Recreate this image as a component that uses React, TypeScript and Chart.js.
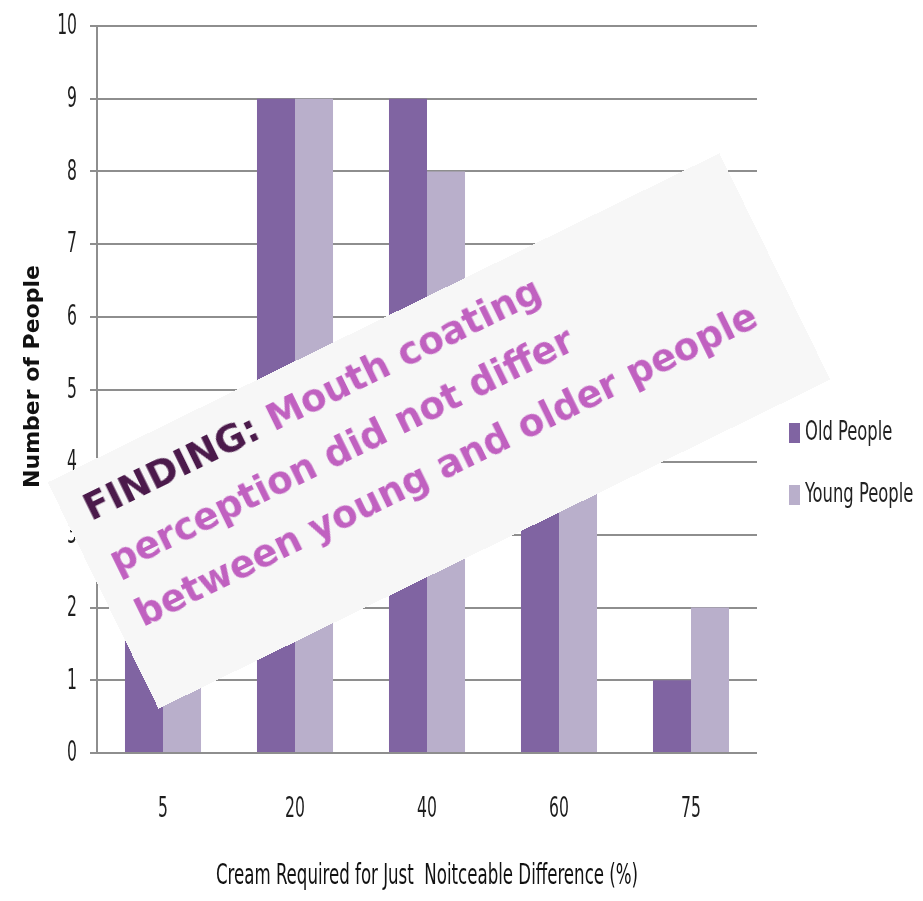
import { useEffect, useRef } from 'react';
import { Chart, registerables } from 'chart.js';

Chart.register(...registerables);

const categories = ['5', '20', '40', '60', '75'];
const oldPeople = [2, 9, 9, 4, 1];
const youngPeople = [2, 9, 8, 4, 2];
const seriesNames = ['Old People', 'Young People'];
const seriesColors = ['#8064A2', '#B9AFCB'];
const yTitle = 'Number of People';
const xTitle = 'Cream Required for Just  Noitceable Difference (%)';
const findingLead = 'FINDING:';
const findingLines = [' Mouth coating', 'perception did not differ', 'between young and older people'];

const NARROW = '"DejaVu Sans Condensed", "DejaVu Sans", sans-serif';
const W = 923;
const H = 901;

function drawSquashed(ctx: any, text: string, x: number, y: number, size: number, sx: number, align: string) {
  ctx.save();
  ctx.translate(x, y);
  ctx.scale(sx, 1);
  ctx.font = `${size}px ${NARROW}`;
  ctx.textAlign = align;
  ctx.textBaseline = 'middle';
  ctx.fillText(text, 0, 0);
  ctx.restore();
}

const textPlugin = {
  id: 'squashedText',
  afterDraw(chart: any) {
    const ctx = chart.ctx;
    const area = chart.chartArea;
    const xs = chart.scales.x;
    const ys = chart.scales.y;
    ctx.save();
    ctx.fillStyle = '#1e1e1e';
    ys.ticks.forEach((t: any, i: number) => {
      drawSquashed(ctx, String(t.label), area.left - 20, ys.getPixelForTick(i) + 1, 28, 0.62, 'right');
    });
    xs.ticks.forEach((t: any, i: number) => {
      drawSquashed(ctx, String(xs.getLabelForValue(t.value)), xs.getPixelForTick(i), area.bottom + 57, 28, 0.62, 'center');
    });
    ctx.fillStyle = '#111';
    drawSquashed(ctx, xTitle, (area.left + area.right) / 2, area.bottom + 124, 28, 0.66, 'center');
    // y title
    ctx.save();
    ctx.translate(33, (area.top + area.bottom) / 2 - 13);
    ctx.rotate(-Math.PI / 2);
    ctx.font = 'bold 22px "DejaVu Sans", sans-serif';
    ctx.textAlign = 'center';
    ctx.textBaseline = 'middle';
    ctx.fillStyle = '#111';
    ctx.fillText(yTitle, 0, 0);
    ctx.restore();
    // legend
    const lx = area.right + 32;
    const ly = area.top + 407;
    chart.data.datasets.forEach((ds: any, i: number) => {
      const cy = ly + i * 62;
      ctx.fillStyle = ds.backgroundColor;
      ctx.fillRect(lx, cy - 10, 11, 20);
      ctx.fillStyle = '#222';
      drawSquashed(ctx, ds.label, lx + 16, cy, 26, 0.7, 'left');
    });
    ctx.restore();
  },
};

export default function App() {
  const ref = useRef<HTMLCanvasElement | null>(null);
  useEffect(() => {
    if (!ref.current) return;
    const chart = new Chart(ref.current, {
      type: 'bar',
      data: {
        labels: categories,
        datasets: [
          { label: seriesNames[0], data: oldPeople, backgroundColor: seriesColors[0] },
          { label: seriesNames[1], data: youngPeople, backgroundColor: seriesColors[1] },
        ],
      },
      options: {
        animation: false,
        responsive: false,
        maintainAspectRatio: false,
        layout: { padding: { top: 26, right: 166, left: 0, bottom: 0 } },
        datasets: { bar: { categoryPercentage: 0.576, barPercentage: 1 } },
        plugins: { legend: { display: false }, tooltip: { enabled: false } },
        scales: {
          x: {
            afterFit: (s: any) => { s.height = 148; },
            grid: { display: false },
            border: { display: false },
            ticks: { display: false },
          },
          y: {
            min: 0,
            max: 10,
            afterFit: (s: any) => { s.width = 97; },
            ticks: { stepSize: 1, display: false },
            grid: { color: '#8e8e8e', lineWidth: 2, tickLength: 7, tickColor: '#8e8e8e' },
            border: { display: true, color: '#8e8e8e', width: 2 },
          },
        },
      },
      plugins: [textPlugin],
    });
    return () => chart.destroy();
  }, []);

  return (
    <div style={{ position: 'absolute', left: 0, top: 0, width: W, height: H, background: '#fff', overflow: 'hidden' }}>
      <canvas ref={ref} width={W} height={H} style={{ width: W, height: H, display: 'block' }} />
      <div
        style={{
          position: 'absolute',
          left: 439 - 374,
          top: 431 - 126,
          width: 748,
          height: 252,
          background: '#F7F7F7',
          transform: 'rotate(-26.1deg)',
          transformOrigin: 'center center',
          boxSizing: 'border-box',
          padding: '12px 0 0 22px',
          fontFamily: '"DejaVu Sans", sans-serif',
          fontWeight: 'bold',
          fontSize: 37,
          lineHeight: '59px',
          color: '#C061C0',
          whiteSpace: 'pre',
        }}
      >
        <div>
          <span style={{ color: '#4B1A4B' }}>{findingLead}</span>
          {findingLines[0]}
        </div>
        <div>{findingLines[1]}</div>
        <div>{findingLines[2]}</div>
      </div>
    </div>
  );
}
